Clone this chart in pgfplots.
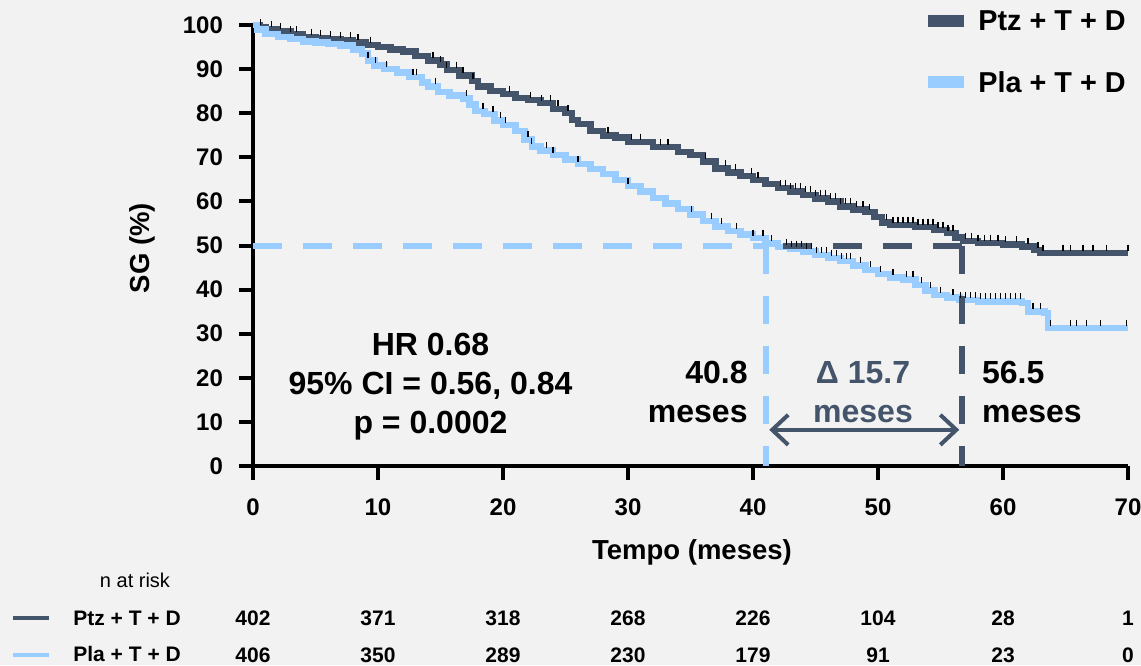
\documentclass[border=0pt]{standalone}
\usepackage{fontspec}
\setmainfont{Liberation Sans}
\usepackage{pgfplots}
\pgfplotsset{compat=1.18}
\usetikzlibrary{arrows.meta}
\definecolor{ptz}{HTML}{44546A}
\definecolor{pla}{HTML}{99CCFF}
\definecolor{bgc}{HTML}{F2F2F2}
\begin{document}
\begin{tikzpicture}
\fill[bgc] (0,0) rectangle (570.5pt,332.5pt);
\begin{axis}[
  at={(126.5pt,99.5pt)}, anchor=south west,
  scale only axis, width=437.5pt, height=220.5pt,
  xmin=0, xmax=70, ymin=0, ymax=100,
  axis lines*=left,
  axis line style={line width=2pt, black},
  xtick={0,10,...,70}, ytick={0,10,...,100},
  tick align=outside, major tick length=7pt,
  every tick/.style={black, line width=2pt},
  tick label style={font=\fontsize{12}{14}\selectfont\bfseries},
  xticklabel style={yshift=-6pt},
  yticklabel style={xshift=-4.5pt},
  /pgf/number format/assume math mode=true,
  clip=false,
]
% Ptz + T + D
\addplot[ptz, line width=3.25pt, const plot, mark=none] coordinates {
(0,100) (0.5,99.5) (1,99) (2,98.5) (3,97.8) (4,97.2) (5,97) (6,96.8) (7,96.5) (8,96) (9,95.5) (10,95) (11,94.5) (12,94) (13,93) (14,92) (15,91) (15.5,89.8) (16.5,88.5) (17.5,87.3) (18,86) (19,85) (20,84.3) (21,83.5) (22,83) (23,82.3) (24,81) (25,80) (25.5,78.5) (26,77.5) (27,76) (28,75) (29,74.5) (30,73.5) (32,72.3) (34,71.2) (35,70.5) (36,69) (37,67.5) (38,66.5) (39,65.8) (40,64.8) (41,64) (42,63) (43,62.2) (44,61.5) (45,60.7) (46,60) (47,58.8) (48,58.2) (49,57.6) (49.7,56.5) (50.3,55.2) (51,54.6) (53,54.2) (54.5,53.5) (55.5,52.8) (56.2,51.8) (56.8,51) (58,50.6) (60,50.2) (61.5,49.8) (62.5,49) (63,48.3) (70,48.3)
};
% Pla + T + D
\addplot[pla, line width=3.25pt, const plot, mark=none] coordinates {
(0,100) (0.3,99) (1,98) (2,97.3) (3,96.8) (4,96.3) (5,96) (6,95.7) (7,95.3) (8,94.5) (8.7,93.5) (9.2,92) (9.7,90.8) (10.5,90) (11.5,89.2) (12.5,88.2) (13.5,87) (14,86) (14.8,84.8) (15.7,84) (16.8,83.3) (17.3,82) (17.8,80.5) (18.5,79.8) (19.3,78.3) (20,77.3) (21,76) (21.7,74) (22.3,72.5) (23,71.5) (24,70.5) (25,69.5) (26,68.5) (27,67.3) (28,66.2) (29,64.8) (30,63.5) (31,62.2) (32,60.8) (33,59.5) (34,58.3) (35,57) (36,55.6) (37,54.3) (38,53.3) (39,52.5) (40,51.7) (41,50.5) (42,49.7) (43,49.2) (44,48.6) (45,47.8) (46,47.2) (47,46.5) (48,45.5) (49,44.5) (50,43.5) (51,42.8) (52,42.3) (53,41) (53.8,39.8) (54.5,38.8) (55.5,38.2) (56.5,37.6) (58,37.3) (61.5,37) (62,35) (63.3,34.7) (63.6,31.3) (70,31.3)
};
% median lines
\addplot[pla, line width=3pt, dash pattern=on 14.25pt off 10.75pt, mark=none] coordinates {(0,50) (41,50)};
\addplot[pla, line width=3pt, dash pattern=on 14.25pt off 10.75pt, mark=none] coordinates {(41,50) (41,0)};
\addplot[ptz, line width=3pt, dash pattern=on 14.25pt off 10.75pt, mark=none] coordinates {(56.7,50) (41.5,50)};
\addplot[ptz, line width=3pt, dash pattern=on 14.25pt off 10.75pt, mark=none] coordinates {(56.7,50) (56.7,0)};
% censor marks
\addplot[only marks, mark=|, mark size=1.5pt, black, mark options={line width=0.7pt}] coordinates {
(0.6,100.7) (1.5,100.2) (2.2,99.7) (3.0,99.0) (3.5,99.0) (4.7,98.4) (5.4,98.2) (6.2,98.0) (7.0,97.7) (7.8,97.7) (8.4,97.2) (9.4,96.7) (14.4,93.2) (15.0,92.2) (15.5,91.0) (16.3,91.0) (16.8,89.7) (17.6,88.5) (20.5,85.5) (22.2,84.2) (23.1,83.5) (23.8,83.5) (24.4,82.2) (25.2,81.2) (28.4,76.2) (30.3,74.7) (31.0,74.7) (32.6,73.5) (33.2,73.5) (36.2,70.2) (37.8,68.7) (38.6,67.7) (39.9,67.0) (40.4,66.0) (42.2,64.2) (42.6,64.2) (43.0,63.4) (43.4,63.4) (43.8,63.4) (44.2,62.7) (44.6,62.7) (45.0,61.9) (45.4,61.9) (45.8,61.9) (46.2,61.2) (46.6,61.2) (47.0,60.0) (47.4,60.0) (47.8,60.0) (48.3,59.4) (48.8,59.4) (49.3,58.8) (50.7,56.4) (51.2,55.8) (51.6,55.8) (52.0,55.8) (52.4,55.8) (52.8,55.8) (53.2,55.4) (53.6,55.4) (54.0,55.4) (54.4,55.4) (54.8,54.7) (55.2,54.7) (55.6,54.0) (56.0,54.0) (57.0,52.2) (57.5,52.2) (58.0,51.8) (58.5,51.8) (59.0,51.8) (59.6,51.8) (60.2,51.4) (61.1,51.4) (62.0,51.0) (62.8,50.2) (63.2,49.5) (64.8,49.5) (65.4,49.5) (66.4,49.5) (67.2,49.5) (68.3,49.5) (70,49.5)
(9.2,93.2) (9.8,92.0) (10.7,91.2) (12.8,89.4) (13.1,89.4) (14.6,87.2) (17.1,84.5) (18.4,81.7) (19.2,81.0) (19.8,79.5) (20.2,78.5) (22.0,75.2) (22.3,73.7) (23.5,72.7) (24.0,71.7) (26.0,69.7) (30.0,64.7) (35.1,58.2) (36.7,56.8) (37.5,55.5) (38.7,54.5) (40.0,52.9) (40.8,52.9) (41.5,51.7) (42.7,50.9) (43.1,50.4) (43.5,50.4) (43.9,50.4) (44.3,49.8) (44.7,49.8) (45.1,49.0) (45.5,49.0) (45.9,49.0) (46.3,48.4) (46.7,48.4) (47.1,47.7) (47.5,47.7) (47.8,47.7) (48.6,46.7) (49.4,45.7) (50.2,44.7) (51.2,44.0) (52.3,43.5) (52.8,43.5) (53.5,42.2) (54.2,41.0) (55.0,40.0) (56.0,39.4) (56.6,38.8) (57.0,38.8) (57.4,38.8) (57.8,38.8) (58.2,38.5) (58.6,38.5) (59.0,38.5) (59.4,38.5) (59.8,38.5) (60.2,38.5) (60.6,38.5) (61.0,38.5) (61.4,38.5) (62.4,36.2) (63.0,36.2) (63.8,32.5) (65.4,32.5) (65.9,32.5) (66.7,32.5) (67.8,32.5) (69.9,32.5)
};
% arrow
\addplot[ptz, line width=2pt, mark=none, {Straight Barb[length=8pt,width=15pt]}-{Straight Barb[length=8pt,width=15pt]}] coordinates {(41.3,8.2) (56.5,8.2)};
% annotations
\node[font=\fontsize{16}{19.5}\selectfont\bfseries, align=center, inner sep=0pt] at (axis cs:14.2,18.1) {HR 0.68\\95\% CI = 0.56, 0.84\\p = 0.0002};
\node[font=\fontsize{16}{19.5}\selectfont\bfseries, align=right, anchor=east, inner sep=0pt] at (axis cs:39.6,16.7) {40.8\\meses};
\node[font=\fontsize{16}{19.5}\selectfont\bfseries, align=center, text=ptz, inner sep=0pt] at (axis cs:48.8,16.7) {Δ 15.7\\meses};
\node[font=\fontsize{16}{19.5}\selectfont\bfseries, align=left, anchor=west, inner sep=0pt] at (axis cs:58.3,16.7) {56.5\\meses};
\end{axis}
% axis labels
\node[rotate=90, font=\fontsize{13.75}{16}\selectfont\bfseries] at (71pt,208.5pt) {SG (\%)};
\node[font=\fontsize{13.75}{16}\selectfont\bfseries] at (346pt,56.5pt) {Tempo (meses)};
% legend
\draw[ptz, line width=6pt] (464pt,322pt) -- (482pt,322pt);
\node[anchor=west, inner sep=0pt, font=\fontsize{14.4}{16}\selectfont\bfseries] at (489pt,322pt) {Ptz + T + D};
\draw[pla, line width=6pt] (464pt,291.5pt) -- (482pt,291.5pt);
\node[anchor=west, inner sep=0pt, font=\fontsize{14.4}{16}\selectfont\bfseries] at (489pt,291.5pt) {Pla + T + D};
% n at risk table
\node[font=\fontsize{10}{12}\selectfont, inner sep=0pt] at (67.5pt,42.5pt) {n at risk};
\draw[ptz, line width=2pt] (6.5pt,23.5pt) -- (24.5pt,23.5pt);
\draw[pla, line width=2pt] (6.5pt,5pt) -- (24.5pt,5pt);
\begin{scope}[every node/.style={font=\fontsize{10.5}{12}\selectfont\bfseries, inner sep=0pt}]
\node[anchor=west] at (36.5pt,23.5pt) {Ptz + T + D};
\node[anchor=west] at (36.5pt,5.5pt) {Pla + T + D};
\foreach \v [count=\i from 0] in {402,371,318,268,226,104,28,1}
  \node at ({126.5pt+62.5pt*\i},23.5pt) {\v};
\foreach \v [count=\i from 0] in {406,350,289,230,179,91,23,0}
  \node at ({126.5pt+62.5pt*\i},5pt) {\v};
\end{scope}
\pgfresetboundingbox
\path[use as bounding box] (0,0) rectangle (570.5pt,332.5pt);
\end{tikzpicture}
\end{document}
